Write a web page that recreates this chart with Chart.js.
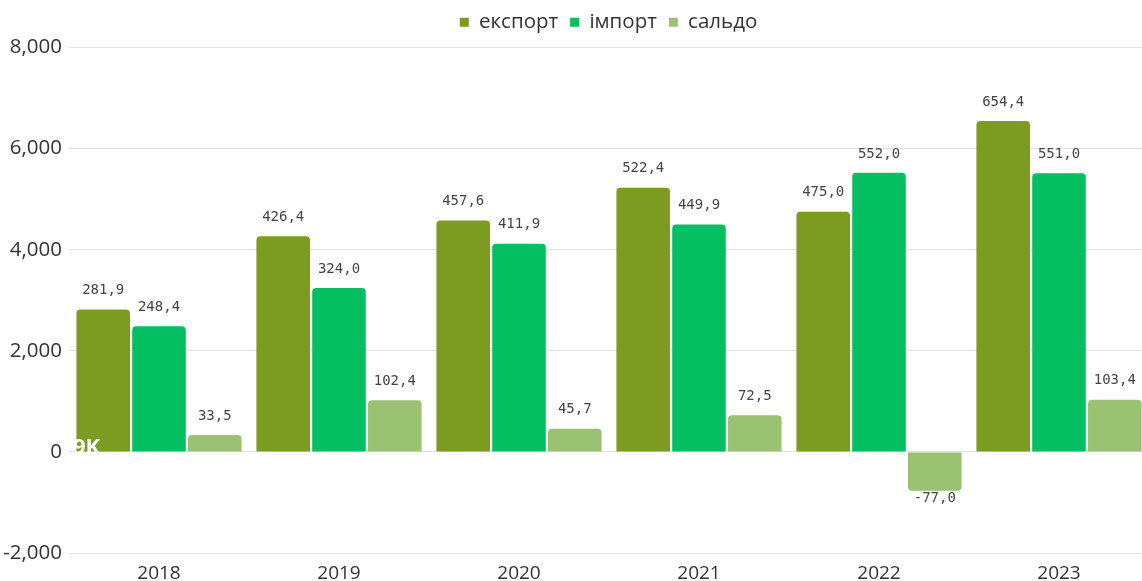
<!DOCTYPE html>
<html>
<head>
<meta charset="utf-8">
<script src="https://cdn.jsdelivr.net/npm/chart.js@4.4.1/dist/chart.umd.min.js"></script>
<style>
    html, body { margin: 0; padding: 0; background: #fff; overflow: hidden; }
    #wrap { width: 1150px; height: 594px; position: relative; }
</style>
</head>
<body>
<div id="wrap"><canvas id="chart"></canvas></div>
<script>
// Дані
const years = ['2018', '2019', '2020', '2021', '2022', '2023'];
const eksport = [2819, 4264, 4576, 5224, 4750, 6544];
const import_ = [2484, 3240, 4119, 4499, 5520, 5510];
const saldo = [335, 1024, 457, 725, -770, 1034];
const yTicks = [-2000, 0, 2000, 4000, 6000, 8000];

const COLORS = {
    eksport: '#7b9b21',
    import: '#03bf62',
    saldo: '#9bc272'
};

const FONT = '"Open Sans", sans-serif';

function fmtLabel(v) {
    return (v / 10).toFixed(1).replace('.', ',');
}

// відступ під легендою + зсув легенди праворуч
const legendMargin = {
    id: 'legendMargin',
    beforeInit(chart) {
        const origFit = chart.legend.fit;
        chart.legend.fit = function() {
            origFit.bind(chart.legend)();
            this.height += 5;
        };
    },
    afterLayout(chart) {
        chart.legend.left += 34;
        chart.legend.right += 34;
    }
};

// підписи над стовпцями
const valueLabels = {
    id: 'valueLabels',
    afterDatasetsDraw(chart) {
        const ctx = chart.ctx;
        ctx.save();
        ctx.font = '14px "DejaVu Sans Mono", monospace';
        ctx.fillStyle = '#444';
        ctx.textAlign = 'center';
        chart.data.datasets.forEach((ds, i) => {
            chart.getDatasetMeta(i).data.forEach((bar, j) => {
                const v = ds.data[j];
                if (v >= 0) {
                    ctx.textBaseline = 'bottom';
                    ctx.fillText(fmtLabel(v), bar.x, bar.y - 12);
                } else {
                    ctx.textBaseline = 'top';
                    ctx.fillText(fmtLabel(v), bar.x, bar.y + 1);
                }
            });
        });
        // водяний знак
        const zeroY = chart.scales.y.getPixelForValue(0);
        ctx.font = 'bold 22px ' + FONT;
        ctx.fillStyle = '#fff';
        ctx.textAlign = 'left';
        ctx.textBaseline = 'alphabetic';
        ctx.fillText('9K', chart.chartArea.left + 4, zeroY + 2);
        ctx.restore();
    }
};

new Chart(document.getElementById('chart').getContext('2d'), {
    type: 'bar',
    data: {
        labels: years,
        datasets: [
            { label: 'експорт', data: eksport, backgroundColor: COLORS.eksport },
            { label: 'імпорт', data: import_, backgroundColor: COLORS.import },
            { label: 'сальдо', data: saldo, backgroundColor: COLORS.saldo }
        ]
    },
    options: {
        responsive: true,
        maintainAspectRatio: false,
        animation: false,
        locale: 'en-US',
        layout: { padding: { left: 0, right: 1, top: 0, bottom: 0 } },
        datasets: {
            bar: {
                categoryPercentage: 0.93,
                barPercentage: 0.96,
                borderRadius: 4,
                borderSkipped: 'start'
            }
        },
        plugins: {
            legend: {
                position: 'top',
                labels: {
                    usePointStyle: true,
                    pointStyle: 'rect',
                    boxWidth: 9,
                    boxHeight: 9,
                    padding: 12,
                    color: '#333',
                    font: { family: FONT, size: 20.5 }
                }
            },
            tooltip: { enabled: false }
        },
        scales: {
            x: {
                grid: { display: false, drawTicks: false, tickLength: 0 },
                border: { display: false },
                ticks: {
                    color: '#333',
                    padding: 11,
                    font: { family: FONT, size: 19, lineHeight: 1 }
                }
            },
            y: {
                min: yTicks[0],
                max: yTicks[yTicks.length - 1],
                afterBuildTicks(axis) { axis.ticks = yTicks.map(v => ({ value: v })); },
                afterFit(axis) { axis.width = 69; },
                grid: { color: '#e3e3e3', drawTicks: false },
                border: { display: false },
                ticks: {
                    color: '#333',
                    padding: 7,
                    font: { family: FONT, size: 20.5 },
                    callback: v => v.toLocaleString('en-US')
                }
            }
        }
    },
    plugins: [legendMargin, valueLabels]
});
</script>
</body>
</html>
